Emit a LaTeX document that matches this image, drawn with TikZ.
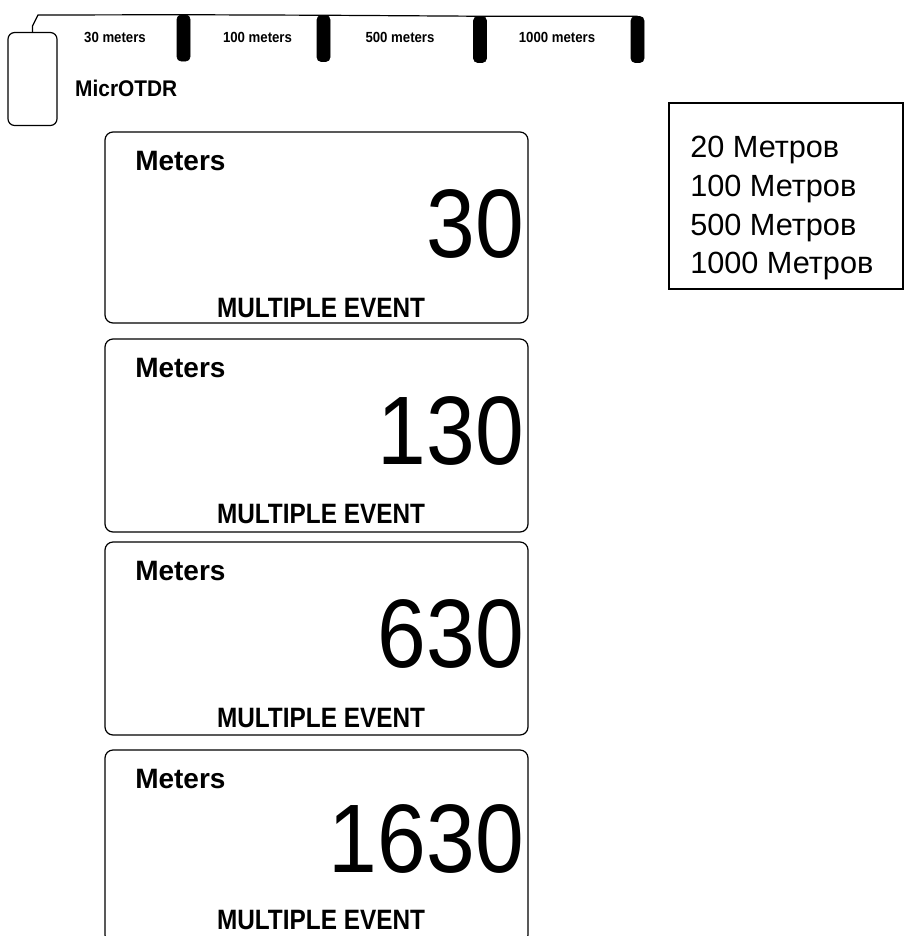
\documentclass[tikz,border=0pt]{standalone}
\usepackage{fontspec}
\setmainfont{Liberation Sans}
\usepackage{xcolor}
\usetikzlibrary{positioning}

\begin{document}
\begin{tikzpicture}[x=0.75pt,y=0.75pt,yscale=-1,xscale=1,
  panel/.style={draw=black, line width=0.9pt, rounded corners=6pt},
  reel/.style={draw=black, fill=black, rounded corners=3pt, minimum width=9.75pt, minimum height=34.5pt, inner sep=0pt},
  canister/.style={draw=black, line width=0.9pt, rounded corners=5pt, minimum width=36.75pt, minimum height=69.75pt, inner sep=0pt},
  reellabel/.style={font=\bfseries\fontsize{11}{13}\selectfont, inner sep=0pt, xscale=0.9},
  meterslabel/.style={anchor=base west, font=\bfseries\fontsize{21}{25}\selectfont, inner sep=0pt},
  bignum/.style={anchor=base east, font=\fontsize{73}{80}\selectfont, inner sep=0pt, xscale=0.9},
  eventlabel/.style={anchor=base, font=\bfseries\fontsize{21}{25}\selectfont, inner sep=0pt, xscale=0.87}]
\useasboundingbox (0,0) rectangle (904,936);
\clip (0,0) rectangle (904,936);

%Shape: Canister
\node[canister] (otdr) at (32.5,79) {};
%Shape: Reels
\node[reel] (reelA) at (183.5,38) {};
\node[reel] (reelB) at (323.5,38.5) {};
\node[reel] (reelC) at (480,39.5) {};
\node[reel] (reelD) at (637.5,39.5) {};
%Straight Lines: cable
\coordinate (bend) at (38,15);
\draw[line width=0.9pt] (otdr.north) -- ++(0,-6) -- (bend) -- (reelA.north) -- (reelB.north) -- (reelC.north) -- (reelD.north);

% Text Node
\node[reellabel] (lblA) at (115,37) {30 meters};
% Text Node
\node[reellabel] (lblB) at (257.5,37) {100 meters};
% Text Node
\node[reellabel] (lblC) at (400,37) {500 meters};
% Text Node
\node[reellabel] (lblD) at (557,37) {1000 meters};
% Text Node
\node[anchor=west, inner sep=0pt, font=\bfseries\fontsize{17}{20}\selectfont, xscale=0.92] (otdrname) at (75,88) {MicrOTDR};

%Shape: Rectangle legend
\draw[line width=0.9pt] (669,103) rectangle (903,289);
% Text Node
\node[anchor=north west, inner sep=0pt, align=left, font=\fontsize{23}{29}\selectfont] (legend) at (690,136) {20 Метров\\100 Метров\\500 Метров\\1000 Метров};

%Shape: Panel 1
\draw[panel] (105,132) rectangle (528,323);
\node[meterslabel] (metersA) at (135,170) {Meters};
\node[bignum] (numA) at (524,257) {30};
\node[eventlabel] (eventA) at (321,317) {MULTIPLE EVENT};
%Shape: Panel 2
\draw[panel] (105,339) rectangle (528,532);
\node[meterslabel] (metersB) at (135,377) {Meters};
\node[bignum] (numB) at (524,464) {130};
\node[eventlabel] (eventB) at (321,523) {MULTIPLE EVENT};
%Shape: Panel 3
\draw[panel] (105,542) rectangle (528,735);
\node[meterslabel] (metersC) at (135,580) {Meters};
\node[bignum] (numC) at (524,667) {630};
\node[eventlabel] (eventC) at (321,727) {MULTIPLE EVENT};
%Shape: Panel 4
\draw[panel] (105,750) rectangle (528,943);
\node[meterslabel] (metersD) at (135,788) {Meters};
\node[bignum] (numD) at (524,872) {1630};
\node[eventlabel] (eventD) at (321,929) {MULTIPLE EVENT};

\end{tikzpicture}
\end{document}
